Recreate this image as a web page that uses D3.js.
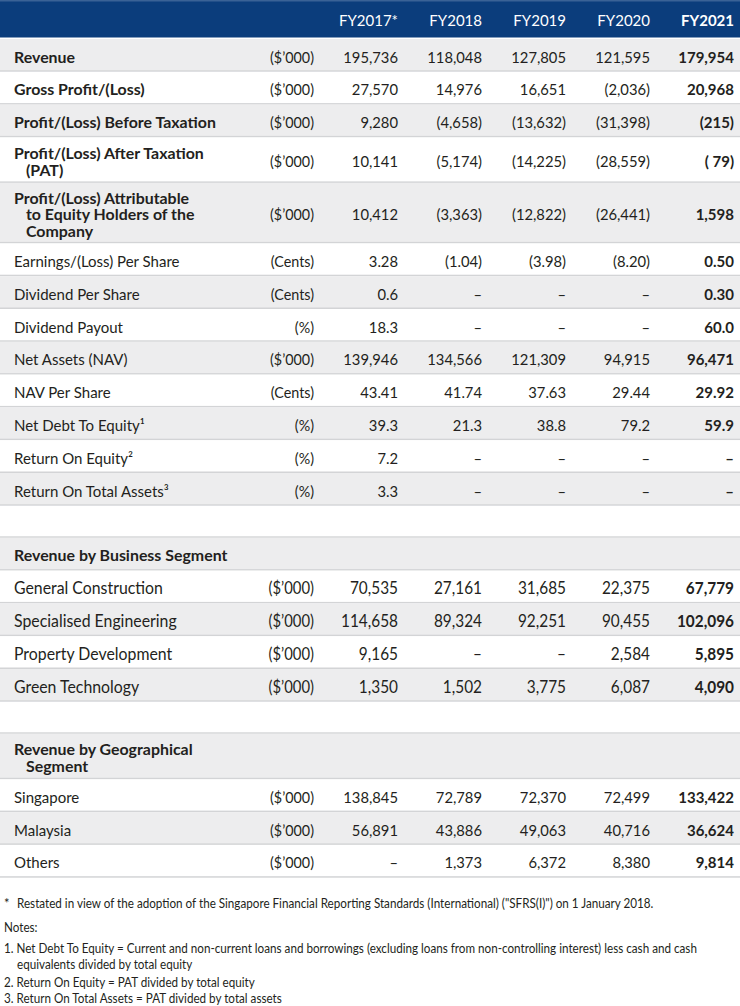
<!DOCTYPE html>
<html><head><meta charset="utf-8">
<script src="https://cdn.jsdelivr.net/npm/d3@7"></script>
<style>body{margin:0;background:#fff}svg{display:block}</style>
</head><body>
<svg id="chart" width="740" height="1006"></svg>
<script>
// ---------- data ----------
const years = ["FY2017*", "FY2018", "FY2019", "FY2020", "FY2021"];
const labels = [
  "Revenue", "Gross Profit/(Loss)", "Profit/(Loss) Before Taxation",
  "Profit/(Loss) After Taxation\n(PAT)",
  "Profit/(Loss) Attributable\nto Equity Holders of the\nCompany",
  "Earnings/(Loss) Per Share", "Dividend Per Share", "Dividend Payout",
  "Net Assets (NAV)", "NAV Per Share", "Net Debt To Equity¹",
  "Return On Equity²", "Return On Total Assets³",
  "",
  "Revenue by Business Segment",
  "General Construction", "Specialised Engineering", "Property Development", "Green Technology",
  "",
  "Revenue by Geographical\nSegment",
  "Singapore", "Malaysia", "Others"
];
const units = [
  "($’000)", "($’000)", "($’000)", "($’000)", "($’000)",
  "(Cents)", "(Cents)", "(%)", "($’000)", "(Cents)", "(%)", "(%)", "(%)",
  null, null,
  "($’000)", "($’000)", "($’000)", "($’000)",
  null, null,
  "($’000)", "($’000)", "($’000)"
];
const fy2017 = ["195,736","27,570","9,280","10,141","10,412","3.28","0.6","18.3","139,946","43.41","39.3","7.2","3.3",
  null,null,"70,535","114,658","9,165","1,350",null,null,"138,845","56,891","–"];
const fy2018 = ["118,048","14,976","(4,658)","(5,174)","(3,363)","(1.04)","–","–","134,566","41.74","21.3","–","–",
  null,null,"27,161","89,324","–","1,502",null,null,"72,789","43,886","1,373"];
const fy2019 = ["127,805","16,651","(13,632)","(14,225)","(12,822)","(3.98)","–","–","121,309","37.63","38.8","–","–",
  null,null,"31,685","92,251","–","3,775",null,null,"72,370","49,063","6,372"];
const fy2020 = ["121,595","(2,036)","(31,398)","(28,559)","(26,441)","(8.20)","–","–","94,915","29.44","79.2","–","–",
  null,null,"22,375","90,455","2,584","6,087",null,null,"72,499","40,716","8,380"];
const fy2021 = ["179,954","20,968","(215)","( 79)","1,598","0.50","0.30","60.0","96,471","29.92","59.9","–","–",
  null,null,"67,779","102,096","5,895","4,090",null,null,"133,422","36,624","9,814"];
const footStar = "Restated in view of the adoption of the Singapore Financial Reporting Standards (International) (\"SFRS(I)\") on 1 January 2018.";
const notes = [
  "1. Net Debt To Equity = Current and non-current loans and borrowings (excluding loans from non-controlling interest) less cash and cash",
  "    equivalents divided by total equity",
  "2. Return On Equity = PAT divided by total equity",
  "3. Return On Total Assets = PAT divided by total assets"
];

// ---------- layout / style ----------
const W = 740;
const FONT = "Lato, 'Open Sans', sans-serif";
const INK = "#231f20";
const BLUE = "#0b3d7c";
const STRIPE = "#ededee";
const RULE = "#d3d4d6";
const boldLabelRows = new Set([0,1,2,3,4,14,20]);
const condensedRows = new Set([15,16,17,18]);
const headerH = 37.5;
const heightFor = n => n === 1 ? 32.8 : (n === 2 ? 45.5 : 60.5);

const series = [fy2017, fy2018, fy2019, fy2020, fy2021];
const colKeys = ["unit"].concat(years);
const x = d3.scalePoint().domain(colKeys).range([314, 734]);

const svg = d3.select("#chart");

function measure(str, fs, weight) {
  const t = svg.append("text").attr("font-family", FONT).attr("font-size", fs)
    .attr("font-weight", weight || 400).text(str);
  const w = t.node().getComputedTextLength();
  t.remove();
  return w;
}
const fit = (str, target, weight) => 15 * target / measure(str, 15, weight);
const hdrFs = 15;
const H = measure("FY2018", hdrFs);
const valFs = fit("118,048", 1.04 * H);
const valBoldFs = fit("179,954", 1.06 * H, 700);
const unitFs = fit("($’000)", 44);
const boldLabFs = fit("Profit/(Loss) Before Taxation", 202, 700);
const labFs = 15;
const cFs = 17.5;
const cLabSx = 149 / measure("General Construction", cFs);
const cValSx = 57 / measure("114,658", cFs);
const cUnitSx = 45.5 / measure("($’000)", cFs);

svg.append("rect").attr("width", W).attr("height", 1006).attr("fill", "#fff");

// row geometry
let yCursor = headerH + 1.5;
const rows = labels.map((lab, i) => {
  const lines = lab === "" ? [] : lab.split("\n");
  const h = lab === "" ? 32 : heightFor(lines.length);
  const r = {i, lines, y0: yCursor, h, unit: units[i], vals: series.map(s => s[i])};
  yCursor += h;
  return r;
});

// header
svg.append("rect").attr("x", 0).attr("y", 0).attr("width", W).attr("height", headerH).attr("fill", BLUE);
svg.append("rect").attr("x", 0).attr("y", 0).attr("width", W).attr("height", 1.5).attr("fill", "#3a6296");
svg.selectAll("text.hdr").data(years).join("text")
  .attr("class", "hdr")
  .attr("x", d => x(d)).attr("y", 26.3)
  .attr("text-anchor", "end")
  .attr("fill", "#fff")
  .attr("font-family", FONT)
  .attr("font-size", hdrFs)
  .attr("font-weight", (d, i) => i === 4 ? 700 : 400)
  .text(d => d);

// rows
const g = svg.selectAll("g.row").data(rows).join("g").attr("class", "row");
g.append("rect")
  .attr("x", 0).attr("y", d => d.y0).attr("width", W).attr("height", d => d.h)
  .attr("fill", d => d.i % 2 === 0 ? STRIPE : "#fff");
g.append("rect")
  .attr("x", 0).attr("y", d => d.y0 + d.h - 1.5).attr("width", W).attr("height", 1.5)
  .attr("fill", RULE);

const lineGap = 16.5;
g.each(function(d) {
  const sel = d3.select(this);
  const cond = condensedRows.has(d.i);
  const cy = d.y0 + d.h / 2 - 0.5;
  const base = cy + 7.6;
  const nL = d.lines.length;
  const bold = boldLabelRows.has(d.i);
  if (nL) {
    const top = base - (nL - 1) / 2 * lineGap;
    const t = sel.append("text")
      .attr("transform", `translate(14,${top}) scale(${cond ? cLabSx : 1},1)`)
      .attr("font-family", FONT).attr("font-size", cond ? cFs : (bold ? boldLabFs : labFs))
      .attr("font-weight", bold ? 700 : 400)
      .attr("fill", INK);
    d.lines.forEach((ln, k) => {
      t.append("tspan").attr("x", k === 0 ? 0 : 12).attr("y", k * lineGap).text(ln);
    });
  }
  if (d.unit) {
    sel.append("text")
      .attr("transform", `translate(${x("unit")},${base}) scale(${cond ? cUnitSx : 1},1)`)
      .attr("text-anchor", "end")
      .attr("font-family", FONT).attr("font-size", cond ? cFs : unitFs)
      .attr("fill", INK).text(d.unit);
  }
  d.vals.forEach((v, j) => {
    if (v == null) return;
    sel.append("text")
      .attr("transform", `translate(${x(years[j])},${base}) scale(${cond ? cValSx : 1},1)`)
      .attr("text-anchor", "end")
      .attr("font-family", FONT).attr("font-size", cond ? cFs : (j === 4 ? valBoldFs : valFs))
      .attr("font-weight", j === 4 ? 700 : 400)
      .attr("fill", INK)
      .style("white-space", "pre")
      .text(v);
  });
});

// footnotes (condensed)
const fnFs = 13;
svg.append("text").attr("x", 4).attr("y", 908)
  .attr("font-family", FONT).attr("font-size", fnFs).attr("fill", INK).text("*");
const fl = svg.append("text").attr("font-family", FONT).attr("font-size", fnFs).attr("fill", INK)
  .attr("transform", "translate(17,908)").text(footStar);
const fsx = 637 / fl.node().getComputedTextLength();
fl.attr("transform", `translate(17,908) scale(${fsx},1)`);

svg.append("text").attr("transform", `translate(4,931.5) scale(${fsx},1)`)
  .attr("font-family", FONT).attr("font-size", fnFs).attr("fill", INK).text("Notes:");
const noteY = [952.5, 969, 986.5, 1003];
notes.forEach((t, k) => {
  const indent = t.startsWith("    ");
  svg.append("text")
    .attr("transform", `translate(${indent ? 17 : 4},${noteY[k]}) scale(${fsx},1)`)
    .attr("font-family", FONT).attr("font-size", fnFs).attr("fill", INK)
    .text(t.trim());
});
</script>
</body></html>
